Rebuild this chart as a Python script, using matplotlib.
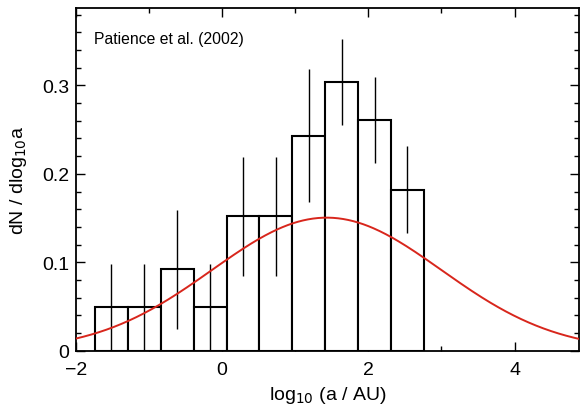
import numpy as np
import matplotlib.pyplot as plt
from matplotlib.ticker import MultipleLocator

plt.rcParams['font.family'] = ['Liberation Sans', 'DejaVu Sans']

# histogram bins (log10 a / AU) and heights
bin_left = [-1.74, -1.29, -0.84, -0.39, 0.06, 0.51, 0.96, 1.41, 1.86, 2.31]
bin_width = 0.45
heights = [0.049, 0.049, 0.092, 0.049, 0.152, 0.152, 0.243, 0.304, 0.261, 0.182]
errors = [0.049, 0.049, 0.067, 0.049, 0.067, 0.067, 0.075, 0.049, 0.049, 0.049]

# log-normal model curve parameters
peak = 0.1505
mu = 1.43
sigma = 1.57

fig = plt.figure(figsize=(5.8, 4.1), dpi=100)
ax = fig.add_axes([0.131, 0.142, 0.867, 0.835])

centers = np.array(bin_left) + bin_width / 2
lo = np.minimum(errors, heights)
ax.bar(bin_left, heights, width=bin_width, align='edge', facecolor='white',
       edgecolor='black', linewidth=1.5, zorder=2)
ax.errorbar(centers, heights, yerr=[lo, errors], fmt='none', ecolor='black',
            elinewidth=1.0, capsize=0, zorder=3)

x = np.linspace(-2, 4.88, 400)
ax.plot(x, peak * np.exp(-(x - mu) ** 2 / (2 * sigma ** 2)), color='#d8261c',
        linewidth=1.4, zorder=4)

ax.set_xlim(-2, 4.88)
ax.set_ylim(0, 0.387)
ax.xaxis.set_major_locator(MultipleLocator(2))
ax.xaxis.set_minor_locator(MultipleLocator(1))
ax.yaxis.set_major_locator(MultipleLocator(0.1))
ax.yaxis.set_minor_locator(MultipleLocator(0.02))
ax.set_yticks([0, 0.1, 0.2, 0.3])
ax.set_yticklabels(['0', '0.1', '0.2', '0.3'])
ax.set_xticks([-2, 0, 2, 4])
ax.set_xticklabels(['\u22122', '0', '2', '4'])
ax.tick_params(which='both', direction='in', top=True, right=True, labelsize=14)
ax.tick_params(axis='x', which='major', pad=7)
ax.tick_params(axis='y', which='major', pad=5)
ax.tick_params(which='major', length=6.5, width=1.0)
ax.tick_params(which='minor', length=3.5, width=1.0)
for s in ax.spines.values():
    s.set_linewidth(1.3)

ax.set_xlabel(r'log$_{10}$ (a / AU)', fontsize=14, labelpad=5)
ax.set_ylabel(r'dN / dlog$_{10}$a', fontsize=14, labelpad=9)
ax.text(0.036, 0.90, 'Patience et al. (2002)', transform=ax.transAxes, fontsize=11.3)

fig.savefig('out.png', dpi=100)
